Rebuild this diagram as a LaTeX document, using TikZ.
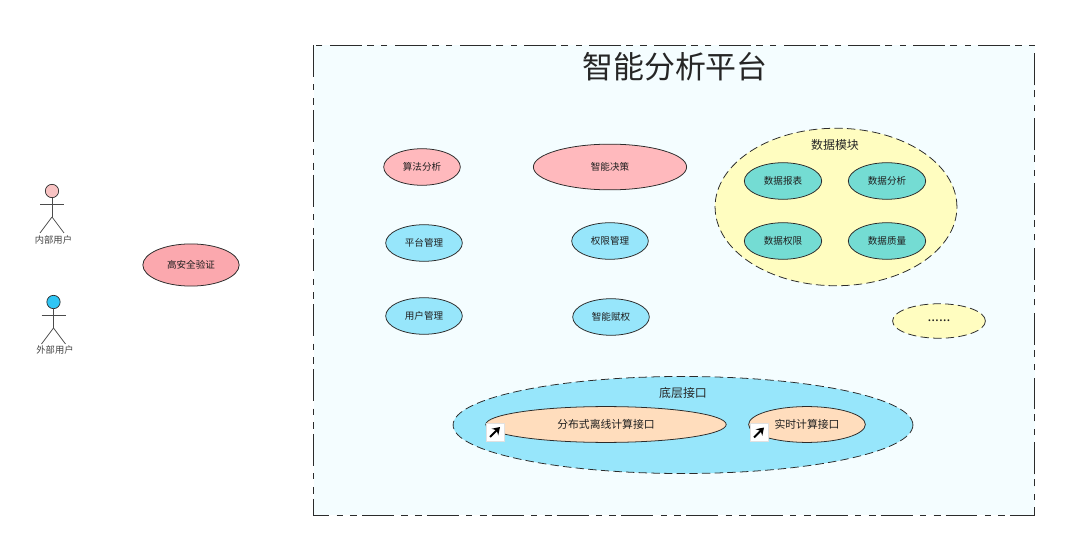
\documentclass[tikz,border=0pt]{standalone}
\usepackage{fontspec}
\setmainfont{Noto Sans CJK SC}
\usetikzlibrary{arrows.meta}
\usetikzlibrary{shapes.geometric}
\usetikzlibrary{calc,positioning}

\definecolor{panelfill}{HTML}{F4FDFF}
\definecolor{usepink}{HTML}{FFB9BD}
\definecolor{userose}{HTML}{FBA8AE}
\definecolor{usecyan}{HTML}{97E6FB}
\definecolor{useteal}{HTML}{74DCD3}
\definecolor{useyellow}{HTML}{FFFDC0}
\definecolor{usepeach}{HTML}{FFDDBD}
\definecolor{lineink}{HTML}{2B2B2B}
\definecolor{headpink}{HTML}{F9C3C3}
\definecolor{headblue}{HTML}{2FC5F4}

\tikzset{
    usecase/.style={ellipse,draw=lineink,line width=0.55pt,inner sep=0pt,font=\fontsize{6.8}{8}\selectfont,text=black!88},
    groupcase/.style={usecase,dash pattern=on 6pt off 3pt},
    bigcase/.style={usecase,fill=usepeach,minimum height=25.5pt,font=\fontsize{7.7}{9}\selectfont},
    actorhead/.style={circle,draw=lineink,line width=0.5pt,minimum size=9.5pt,inner sep=0pt},
    actorname/.style={font=\fontsize{6.6}{8}\selectfont,text=black!75,inner sep=0pt},
    limb/.style={draw=lineink!85,line width=0.5pt},
    linkbox/.style={draw=black!12,fill=white,minimum size=13pt,inner sep=0pt,line width=0.3pt},
}

\begin{document}
\begin{tikzpicture}[x=0.025cm,y=-0.025cm]

    \useasboundingbox (0,0) rectangle (1080,557);

    % panel
    \draw[fill=panelfill,draw=lineink,line width=0.55pt,dash pattern=on 22.7pt off 5.3pt on 4.3pt off 5.3pt on 5pt off 3.5pt] (313.5,45) rectangle (1034.5,515);
    \node[font=\fontsize{22}{26}\selectfont,text=black!85,inner sep=0pt] (title) at (675,67) {智能分析平台};

    % actors
    \node[actorhead,fill=headpink] (innerhead) at (52,191) {};
    \coordinate (innerhip) at (52,217);
    \draw[limb] (innerhead) -- (innerhip);
    \draw[limb] (40,204) -- (64,204);
    \draw[limb] (innerhip) -- (40,233);
    \draw[limb] (innerhip) -- (64,233);
    \node[actorname] (inner) at (53.5,240) {内部用户};

    \node[actorhead,fill=headblue] (outerhead) at (53.5,302) {};
    \coordinate (outerhip) at (53.5,328);
    \draw[limb] (outerhead) -- (outerhip);
    \draw[limb] (41.5,315) -- (65.5,315);
    \draw[limb] (outerhip) -- (41.5,344);
    \draw[limb] (outerhip) -- (65.5,344);
    \node[actorname] (outer) at (55,350) {外部用户};

    \node[usecase,fill=userose,minimum width=68.5pt,minimum height=30pt] (auth) at (191,265) {高安全验证};

    % left columns
    \node[usecase,fill=usepink,minimum width=54.5pt,minimum height=26pt] (algo) at (422,167) {算法分析};
    \node[usecase,fill=usepink,minimum width=109pt,minimum height=32.5pt] (decision) at (610,167) {智能决策};
    \node[usecase,fill=usecyan,minimum width=54.5pt,minimum height=26pt] (platform) at (424,243) {平台管理};
    \node[usecase,fill=usecyan,minimum width=54.5pt,minimum height=26pt] (rights) at (610,241) {权限管理};
    \node[usecase,fill=usecyan,minimum width=54.5pt,minimum height=26pt] (users) at (424,316) {用户管理};
    \node[usecase,fill=usecyan,minimum width=54.5pt,minimum height=26pt] (grant) at (611,317) {智能赋权};

    % data module
    \node[groupcase,fill=useyellow,minimum width=172pt,minimum height=112pt] (data) at (836,207) {};
    \node[font=\fontsize{8.5}{10}\selectfont,text=black!85,inner sep=0pt] (datatitle) at (835,145) {数据模块};
    \node[usecase,fill=useteal,minimum width=55pt,minimum height=26pt] (report) at (783,181) {数据报表};
    \node[usecase,fill=useteal,minimum width=55pt,minimum height=26pt] (analysis) at (887,181) {数据分析};
    \node[usecase,fill=useteal,minimum width=55pt,minimum height=26pt] (access) at (783,241) {数据权限};
    \node[usecase,fill=useteal,minimum width=55pt,minimum height=26pt] (quality) at (887,241) {数据质量};

    \node[groupcase,fill=useyellow,minimum width=66pt,minimum height=24.5pt,font=\fontsize{9.8}{10}\selectfont] (more) at (939,321) {......};

    % interface
    \node[groupcase,fill=usecyan,minimum width=327pt,minimum height=69pt] (base) at (683,425) {};
    \node[font=\fontsize{8.5}{10}\selectfont,text=black!85,inner sep=0pt] (basetitle) at (683,393) {底层接口};
    \node[bigcase,minimum width=171pt] (offline) at (606,424.5) {分布式离线计算接口};
    \node[bigcase,minimum width=83pt] (realtime) at (807,424.5) {实时计算接口};
    \node[linkbox] (offlinelink) at (495,432) {};
    \node[linkbox] (realtimelink) at (759,432.5) {};
    \foreach \boxname in {offlinelink,realtimelink}
        \draw[-{Stealth[length=5pt,width=6.5pt]},line width=1.4pt,black] ($(\boxname.center)+(-5,5)$) -- ($(\boxname.center)+(5,-5)$);

\end{tikzpicture}
\end{document}
